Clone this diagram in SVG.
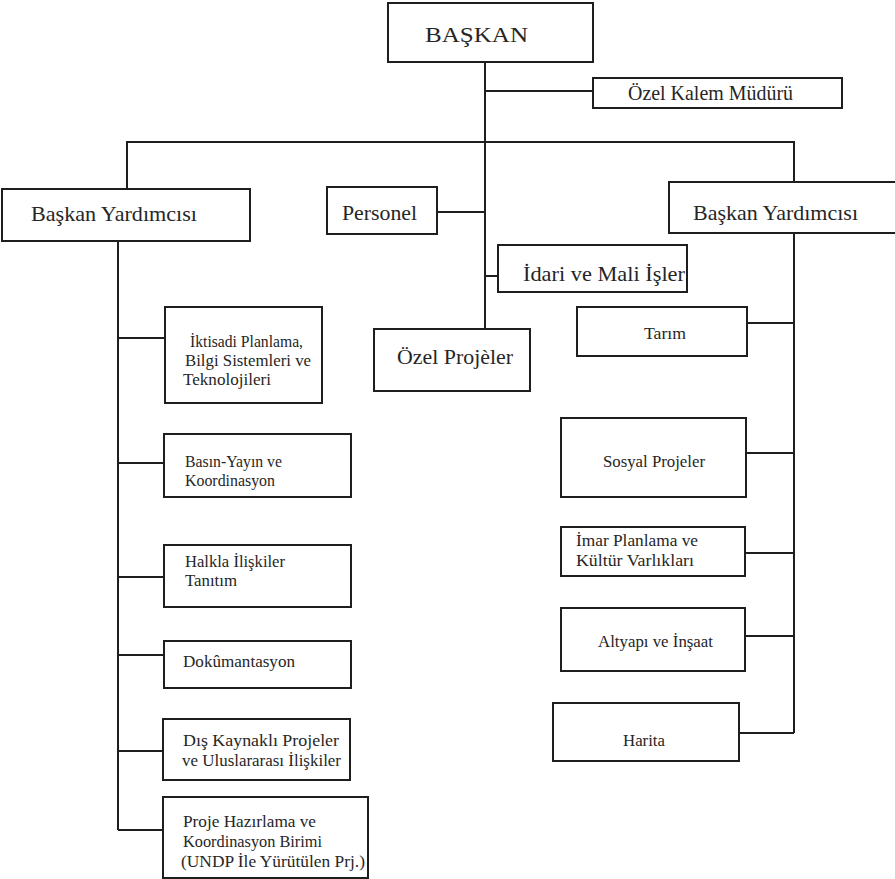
<svg xmlns="http://www.w3.org/2000/svg" width="895" height="879" viewBox="0 0 895 879" font-family="'Liberation Serif', 'Times New Roman', serif">
  <style>
    .box { fill: #ffffff; stroke: #1e1e1e; stroke-width: 2; }
    .line { fill: none; stroke: #1e1e1e; stroke-width: 2; }
    text { font-family: 'Liberation Serif', 'Times New Roman', serif; fill: #262626; }
    .big { font-size: 21px; }
    .mid { font-size: 17px; }
    .sm { font-size: 17px; }
  </style>
  <rect x="0" y="0" width="895" height="879" fill="#ffffff"/>

  <g id="connectors">
    <path class="line" d="M485,62 V329"/>
    <path class="line" d="M485,91 H593"/>
    <path class="line" d="M127,189 V142 H794 V182"/>
    <path class="line" d="M437,212 H485"/>
    <path class="line" d="M485,276 H498"/>
    <path class="line" d="M118,241 V830"/>
    <path class="line" d="M118,338 H165"/>
    <path class="line" d="M118,463 H164"/>
    <path class="line" d="M118,577 H164"/>
    <path class="line" d="M118,655 H164"/>
    <path class="line" d="M118,751 H163"/>
    <path class="line" d="M118,830 H163"/>
    <path class="line" d="M794,233 V733"/>
    <path class="line" d="M747,323 H794"/>
    <path class="line" d="M746,453 H794"/>
    <path class="line" d="M745,553 H794"/>
    <path class="line" d="M745,636 H794"/>
    <path class="line" d="M739,733 H794"/>
  </g>

  <g id="baskan">
    <rect class="box" x="388" y="3" width="205" height="59"/>
    <text class="big" x="425" y="42" style="font-size:22px" textLength="103" lengthAdjust="spacingAndGlyphs">BAŞKAN</text>
  </g>

  <g id="ozel-kalem">
    <rect class="box" x="593" y="78" width="249" height="30"/>
    <text class="big" x="628" y="100" textLength="165" lengthAdjust="spacingAndGlyphs">Özel Kalem Müdürü</text>
  </g>

  <g id="baskan-yardimcisi-sol">
    <rect class="box" x="2" y="189" width="248" height="52"/>
    <text class="big" x="31" y="221" textLength="166" lengthAdjust="spacingAndGlyphs">Başkan Yardımcısı</text>
  </g>

  <g id="personel">
    <rect class="box" x="327" y="187" width="110" height="47"/>
    <text class="big" x="342" y="220" textLength="75" lengthAdjust="spacingAndGlyphs">Personel</text>
  </g>

  <g id="baskan-yardimcisi-sag">
    <rect class="box" x="669" y="182" width="240" height="51"/>
    <text class="big" x="693" y="220" textLength="165" lengthAdjust="spacingAndGlyphs">Başkan Yardımcısı</text>
  </g>

  <g id="idari-mali">
    <rect class="box" x="498" y="245" width="189" height="47"/>
    <text class="big" x="523" y="281" textLength="162" lengthAdjust="spacingAndGlyphs">İdari ve Mali İşler</text>
  </g>

  <g id="ozel-projeler">
    <rect class="box" x="374" y="329" width="156" height="62"/>
    <text class="big" x="397" y="364" textLength="116" lengthAdjust="spacingAndGlyphs">Özel Projèler</text>
  </g>

  <g id="tarim">
    <rect class="box" x="577" y="307" width="170" height="49"/>
    <text class="sm" x="644" y="339" textLength="42" lengthAdjust="spacingAndGlyphs">Tarım</text>
  </g>

  <g id="sosyal-projeler">
    <rect class="box" x="561" y="418" width="185" height="79"/>
    <text class="sm" x="603" y="467" textLength="102" lengthAdjust="spacingAndGlyphs">Sosyal Projeler</text>
  </g>

  <g id="imar-planlama">
    <rect class="box" x="561" y="527" width="184" height="49"/>
    <text class="sm" x="576" y="546" textLength="122" lengthAdjust="spacingAndGlyphs">İmar Planlama ve</text>
    <text class="sm" x="576" y="566" textLength="118" lengthAdjust="spacingAndGlyphs">Kültür Varlıkları</text>
  </g>

  <g id="altyapi-insaat">
    <rect class="box" x="561" y="608" width="184" height="63"/>
    <text class="sm" x="598" y="647" textLength="115" lengthAdjust="spacingAndGlyphs">Altyapı ve İnşaat</text>
  </g>

  <g id="harita">
    <rect class="box" x="553" y="703" width="186" height="58"/>
    <text class="sm" x="623" y="746" textLength="42" lengthAdjust="spacingAndGlyphs">Harita</text>
  </g>

  <g id="iktisadi-planlama">
    <rect class="box" x="165" y="307" width="157" height="96"/>
    <text class="mid" x="190" y="347" textLength="113" lengthAdjust="spacingAndGlyphs">İktisadi Planlama,</text>
    <text class="mid" x="185" y="366" textLength="126" lengthAdjust="spacingAndGlyphs">Bilgi Sistemleri ve</text>
    <text class="mid" x="183" y="385" textLength="88" lengthAdjust="spacingAndGlyphs">Teknolojileri</text>
  </g>

  <g id="basin-yayin">
    <rect class="box" x="164" y="434" width="187" height="63"/>
    <text class="mid" x="185" y="467" textLength="97" lengthAdjust="spacingAndGlyphs">Basın-Yayın ve</text>
    <text class="mid" x="185" y="486" textLength="90" lengthAdjust="spacingAndGlyphs">Koordinasyon</text>
  </g>

  <g id="halkla-iliskiler">
    <rect class="box" x="164" y="545" width="187" height="62"/>
    <text class="mid" x="185" y="567" textLength="100" lengthAdjust="spacingAndGlyphs">Halkla İlişkiler</text>
    <text class="mid" x="185" y="586" textLength="52" lengthAdjust="spacingAndGlyphs">Tanıtım</text>
  </g>

  <g id="dokumantasyon">
    <rect class="box" x="164" y="641" width="187" height="47"/>
    <text class="mid" x="183" y="667" textLength="112" lengthAdjust="spacingAndGlyphs">Dokûmantasyon</text>
  </g>

  <g id="dis-kaynakli">
    <rect class="box" x="163" y="719" width="187" height="61"/>
    <text class="mid" x="183" y="746" textLength="156" lengthAdjust="spacingAndGlyphs">Dış Kaynaklı Projeler</text>
    <text class="mid" x="182" y="766" textLength="159" lengthAdjust="spacingAndGlyphs">ve Uluslararası İlişkiler</text>
  </g>

  <g id="proje-hazirlama">
    <rect class="box" x="163" y="797" width="205" height="81"/>
    <text class="mid" x="183" y="827" textLength="133" lengthAdjust="spacingAndGlyphs">Proje Hazırlama ve</text>
    <text class="mid" x="183" y="847" textLength="139" lengthAdjust="spacingAndGlyphs">Koordinasyon Birimi</text>
    <text class="mid" x="181" y="867" textLength="184" lengthAdjust="spacingAndGlyphs">(UNDP İle Yürütülen Prj.)</text>
  </g>
</svg>
